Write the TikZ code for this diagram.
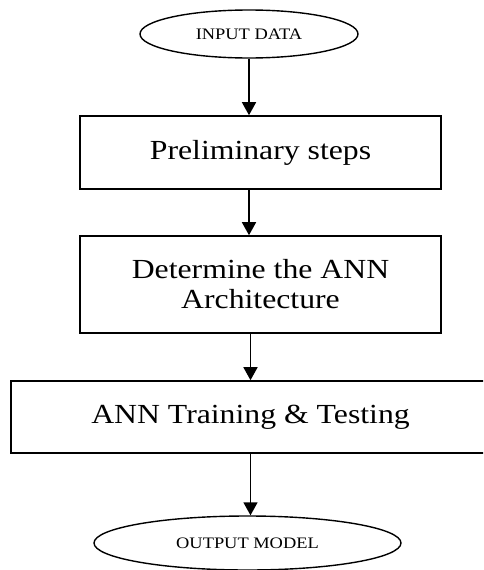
\documentclass[tikz,border=0pt]{standalone}
\usepackage{fontspec}
\setmainfont[FakeStretch=1.15]{Liberation Serif}
\usetikzlibrary{shapes.geometric,arrows.meta}
\tikzset{
  stepbox/.style={draw, line width=1.6pt, rectangle, inner sep=0pt, align=center,
    font=\fontsize{27.6}{30}\selectfont},
  term/.style={draw, line width=1.4pt, ellipse, inner sep=0pt,
    font=\fontsize{16}{18}\selectfont},
  flow/.style={line width=1.5pt, -{Triangle[width=14pt,length=13pt]}}
}
\begin{document}
\begin{tikzpicture}[x=1pt,y=-1pt]
\useasboundingbox (0,0) rectangle (483,570);
\clip (0,0) rectangle (483,570);
\node[term, minimum width=218pt, minimum height=48pt] (e1) at (249,34) {INPUT DATA};
\node[stepbox, minimum width=361pt, minimum height=73pt] (b1) at (260.5,152.5) {Preliminary steps};
\node[stepbox, minimum width=361pt, minimum height=97pt] (b2) at (260.5,284.5) {Determine the ANN\\Architecture};
\node[stepbox, minimum width=479pt, minimum height=72pt] (b3) at (250.5,417) {ANN Training \& Testing};
\node[term, minimum width=307pt, minimum height=54pt] (e2) at (247.5,543) {OUTPUT MODEL};
\draw[flow] (e1.south) -- (e1.south |- b1.north);
\draw[flow] (e1.south |- b1.south) -- (e1.south |- b2.north);
\draw[flow] (b3.north |- b2.south) -- (b3.north);
\draw[flow] (b3.south) -- (b3.south |- e2.north);
\end{tikzpicture}
\end{document}
